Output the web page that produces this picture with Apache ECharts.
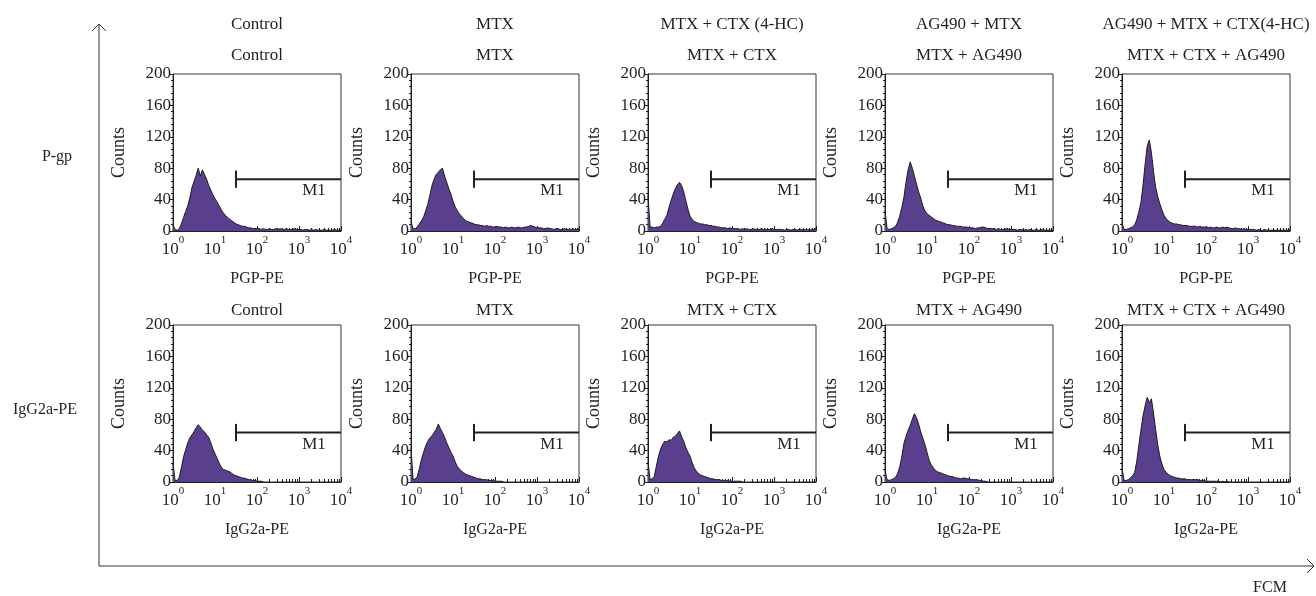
<!DOCTYPE html>
<html>
<head>
<meta charset="utf-8">
<script src="https://cdn.jsdelivr.net/npm/echarts@6/dist/echarts.min.js"></script>
<style>
    html, body { margin: 0; padding: 0; background: #fff; }
    #fcm_chart { width: 1316px; height: 596px; }
</style>
</head>
<body>
<div id="fcm_chart"></div>
<script>
// fluorescence channel bins (log scale, 20 per decade)
var channelBins = [1, 1.12, 1.26, 1.41, 1.58, 1.78, 2, 2.24, 2.51, 2.82,
    3.16, 3.55, 3.98, 4.47, 5.01, 5.62, 6.31, 7.08, 7.94, 8.91,
    10, 11.2, 12.6, 14.1, 15.8, 17.8, 20, 22.4, 25.1, 28.2,
    31.6, 35.5, 39.8, 44.7, 50.1, 56.2, 63.1, 70.8, 79.4, 89.1,
    100, 112, 126, 141, 158, 178, 200, 224, 251, 282,
    316, 355, 398, 447, 501, 562, 631, 708, 794, 891,
    1000, 1120, 1260, 1410, 1580, 1780, 2000, 2240, 2510, 2820,
    3160, 3550, 3980, 4470, 5010, 5620, 6310, 7080, 7940, 8910,
    10000];

var groupNames = ['Control', 'MTX', 'MTX + CTX (4-HC)', 'AG490 + MTX', 'AG490 + MTX + CTX(4-HC)'];
var panelTitles = ['Control', 'MTX', 'MTX + CTX', 'MTX + AG490', 'MTX + CTX + AG490'];
var rowLabels = ['P-gp', 'IgG2a-PE'];
var channelNames = ['PGP-PE', 'IgG2a-PE'];

// P-gp row counts
var pgpControl = [8, 2, 1, 3, 9, 17, 25, 32, 42, 55,
    63, 71, 80, 70, 78, 72, 66, 58, 52, 46,
    41, 37, 32, 27, 23, 20, 17, 15, 13, 11,
    9, 8, 7, 6, 6, 5, 4, 4, 3, 3,
    3, 3, 2, 3, 2, 2, 3, 2, 2, 3,
    2, 3, 2, 2, 3, 2, 2, 2, 3, 2,
    2, 2, 1, 2, 2, 1, 2, 1, 2, 1,
    1, 1, 2, 1, 1, 1, 1, 2, 1, 1,
    1];
var pgpMtx = [12, 3, 3, 5, 9, 13, 18, 26, 34, 46,
    58, 66, 72, 75, 78, 80, 70, 62, 54, 47,
    38, 31, 26, 22, 19, 16, 13, 12, 11, 10,
    9, 8, 8, 7, 7, 6, 7, 6, 6, 5,
    5, 6, 5, 5, 4, 5, 4, 4, 5, 4,
    4, 5, 4, 4, 5, 5, 6, 7, 6, 5,
    4, 4, 4, 3, 3, 4, 3, 3, 2, 3,
    3, 2, 2, 3, 2, 2, 2, 3, 2, 2,
    3];
var pgpMtxCtx = [45, 5, 5, 4, 5, 5, 6, 10, 15, 20,
    30, 39, 47, 54, 59, 62, 58, 50, 39, 28,
    19, 15, 12, 11, 10, 9, 9, 8, 8, 7,
    7, 6, 6, 5, 5, 4, 4, 4, 3, 4,
    3, 3, 3, 3, 2, 3, 2, 3, 2, 2,
    3, 2, 2, 2, 3, 2, 2, 2, 2, 3,
    2, 2, 2, 2, 2, 1, 2, 2, 1, 2,
    2, 1, 2, 2, 1, 2, 2, 1, 2, 2,
    3];
var pgpAgMtx = [26, 3, 2, 3, 4, 6, 11, 19, 30, 43,
    62, 78, 88, 80, 70, 60, 50, 42, 32, 26,
    22, 20, 18, 16, 14, 13, 12, 11, 10, 9,
    8, 8, 7, 7, 6, 6, 6, 5, 5, 5,
    4, 4, 4, 3, 4, 4, 5, 5, 4, 3,
    3, 3, 3, 2, 3, 2, 2, 2, 3, 2,
    2, 2, 2, 1, 2, 2, 1, 2, 1, 2,
    1, 1, 2, 1, 1, 2, 1, 1, 1, 1,
    1];
var pgpAgMtxCtx = [10, 2, 2, 3, 4, 5, 8, 14, 24, 36,
    58, 85, 108, 116, 100, 76, 56, 44, 35, 27,
    20, 16, 13, 11, 10, 9, 9, 8, 8, 7,
    7, 7, 6, 6, 6, 6, 5, 6, 5, 5,
    5, 4, 5, 4, 4, 5, 4, 4, 5, 4,
    5, 4, 3, 3, 4, 3, 3, 2, 3, 2,
    2, 2, 2, 2, 1, 2, 1, 1, 2, 1,
    1, 1, 1, 1, 1, 1, 1, 1, 1, 1,
    1];

// IgG2a isotype row counts
var igControl = [24, 2, 2, 6, 18, 32, 41, 50, 56, 60,
    64, 69, 73, 70, 66, 64, 60, 57, 50, 42,
    36, 30, 24, 19, 16, 15, 14, 13, 11, 9,
    8, 7, 6, 5, 5, 4, 3, 3, 2, 2,
    1, 1, 1, 0];
var igMtx = [44, 3, 4, 7, 17, 29, 38, 46, 52, 56,
    59, 63, 67, 74, 68, 63, 57, 50, 44, 38,
    33, 26, 20, 17, 14, 12, 10, 9, 8, 7,
    6, 5, 4, 4, 3, 3, 3, 2, 2, 2,
    1, 1, 1, 1, 0];
var igMtxCtx = [26, 3, 4, 7, 20, 33, 42, 48, 52, 51,
    54, 53, 57, 58, 62, 65, 58, 52, 44, 38,
    33, 25, 18, 14, 11, 9, 8, 7, 6, 5,
    4, 4, 3, 3, 3, 2, 2, 2, 2, 1,
    1, 1, 1, 1, 1, 0];
var igMtxAg = [15, 3, 2, 3, 4, 6, 11, 19, 32, 49,
    58, 66, 72, 80, 87, 82, 74, 64, 56, 48,
    38, 28, 22, 18, 15, 13, 12, 11, 10, 9,
    8, 7, 7, 6, 5, 5, 4, 5, 5, 4,
    4, 3, 3, 3, 3, 2, 2, 1, 1, 0];
var igMtxCtxAg = [18, 2, 2, 3, 5, 8, 12, 26, 46, 66,
    84, 97, 108, 101, 106, 88, 67, 48, 33, 23,
    16, 12, 10, 8, 7, 6, 5, 5, 4, 4,
    4, 3, 3, 3, 3, 3, 3, 2, 2, 2,
    1, 1, 1, 1, 1, 1, 1, 0, 1, 0,
    1, 0];

var panelCounts = [
    [pgpControl, pgpMtx, pgpMtxCtx, pgpAgMtx, pgpAgMtxCtx],
    [igControl, igMtx, igMtxCtx, igMtxAg, igMtxCtxAg]
];

// M1 gate
var gateStart = 31.6;
var gateEnd = 10000;
var gateLevel = [66, 63];
var gateTickHalf = 11;

var fontFamily = '"Liberation Serif", "DejaVu Serif", serif';
var ink = '#231f20';
var fillColor = '#5b3f8f';

var colLeft = [173, 411, 648, 885, 1122];
var rowTop = [74, 325];
var subTitleY = [56, 311];
var plotW = 168, plotH = 157;

var grids = [], xAxes = [], yAxes = [], series = [], graphics = [];

for (var r = 0; r < 2; r++) {
    for (var c = 0; c < 5; c++) {
        var idx = r * 5 + c;
        grids.push({
            left: colLeft[c], top: rowTop[r], width: plotW, height: plotH,
            show: true, borderColor: '#333', borderWidth: 1, backgroundColor: 'transparent'
        });
        xAxes.push({
            gridIndex: idx,
            type: 'log',
            logBase: 10,
            min: 1,
            max: 10000,
            name: channelNames[r],
            nameLocation: 'middle',
            nameGap: 40,
            nameTextStyle: { fontFamily: fontFamily, fontSize: 16, color: ink },
            axisLine: { show: true, lineStyle: { color: ink, width: 1 } },
            axisTick: { show: true, inside: true, length: 5, lineStyle: { color: ink } },
            minorTick: { show: true, splitNumber: 9, length: 3, lineStyle: { color: ink } },
            splitLine: { show: false },
            axisLabel: {
                margin: 4,
                formatter: function (v) {
                    return '{b|10}{s|' + Math.round(Math.log(v) / Math.LN10) + '}';
                },
                rich: {
                    b: { fontFamily: fontFamily, fontSize: 17, color: ink, verticalAlign: 'bottom', lineHeight: 23 },
                    s: { fontFamily: fontFamily, fontSize: 11, color: ink, verticalAlign: 'top', lineHeight: 11 }
                }
            }
        });
        yAxes.push({
            gridIndex: idx,
            type: 'value',
            min: 0,
            max: 200,
            interval: 40,
            name: 'Counts',
            nameLocation: 'middle',
            nameRotate: 90,
            nameGap: 45,
            nameTextStyle: { fontFamily: fontFamily, fontSize: 18, color: ink },
            axisLine: { show: true, lineStyle: { color: ink, width: 1 } },
            axisTick: { show: true, inside: false, length: 4, lineStyle: { color: ink } },
            minorTick: { show: true, splitNumber: 5, length: 2, lineStyle: { color: ink } },
            splitLine: { show: false },
            axisLabel: { margin: 2, fontFamily: fontFamily, fontSize: 17, color: ink }
        });

        var counts = panelCounts[r][c];
        var pts = [];
        for (var k = 0; k < counts.length; k++) {
            pts.push([channelBins[k], counts[k]]);
        }
        series.push({
            type: 'line',
            xAxisIndex: idx,
            yAxisIndex: idx,
            data: pts,
            symbol: 'none',
            lineStyle: { color: '#1c1c1c', width: 1 },
            areaStyle: { color: fillColor, opacity: 1 },
            z: 2
        });
        // M1 gate bar
        series.push({
            type: 'line',
            xAxisIndex: idx,
            yAxisIndex: idx,
            data: [[gateStart, gateLevel[r]], [gateEnd, gateLevel[r]]],
            symbol: 'none',
            clip: false,
            lineStyle: { color: ink, width: 2 },
            z: 3
        });
        series.push({
            type: 'line',
            xAxisIndex: idx,
            yAxisIndex: idx,
            data: [[gateStart, gateLevel[r] - gateTickHalf], [gateStart, gateLevel[r] + gateTickHalf]],
            symbol: 'none',
            lineStyle: { color: ink, width: 2 },
            z: 3
        });
        series.push({
            type: 'scatter',
            xAxisIndex: idx,
            yAxisIndex: idx,
            data: [[gateEnd, gateLevel[r]]],
            symbolSize: 0,
            clip: false,
            itemStyle: { color: 'transparent', opacity: 1 },
            label: {
                show: true,
                formatter: 'M1',
                position: 'bottom',
                distance: 3,
                offset: [-27, 0],
                fontFamily: fontFamily,
                fontSize: 17,
                color: ink,
                opacity: 1
            },
            z: 4
        });

        graphics.push({
            type: 'text',
            x: colLeft[c] + plotW / 2,
            y: subTitleY[r],
            style: { text: panelTitles[c], fill: ink, fontFamily: fontFamily, fontSize: 17, align: 'center', verticalAlign: 'middle' }
        });
    }
}

for (var c2 = 0; c2 < 5; c2++) {
    graphics.push({
        type: 'text',
        x: colLeft[c2] + plotW / 2,
        y: 25,
        style: { text: groupNames[c2], fill: ink, fontFamily: fontFamily, fontSize: 17, align: 'center', verticalAlign: 'middle' }
    });
}
graphics.push({
    type: 'text', x: 57, y: 157,
    style: { text: rowLabels[0], fill: ink, fontFamily: fontFamily, fontSize: 16, align: 'center', verticalAlign: 'middle' }
});
graphics.push({
    type: 'text', x: 45, y: 410,
    style: { text: rowLabels[1], fill: ink, fontFamily: fontFamily, fontSize: 16, align: 'center', verticalAlign: 'middle' }
});
graphics.push({
    type: 'text', x: 1270, y: 588,
    style: { text: 'FCM', fill: ink, fontFamily: fontFamily, fontSize: 16, align: 'center', verticalAlign: 'middle' }
});
// outer arrows
graphics.push({
    type: 'polyline',
    shape: { points: [[99, 566], [99, 24]] },
    style: { stroke: '#333', lineWidth: 1, fill: null }
});
graphics.push({
    type: 'polyline',
    shape: { points: [[92, 31], [99, 24], [106, 31]] },
    style: { stroke: '#333', lineWidth: 1, fill: null }
});
graphics.push({
    type: 'polyline',
    shape: { points: [[99, 566], [1314, 566]] },
    style: { stroke: '#333', lineWidth: 1, fill: null }
});
graphics.push({
    type: 'polyline',
    shape: { points: [[1307, 559], [1314, 566], [1307, 573]] },
    style: { stroke: '#333', lineWidth: 1, fill: null }
});

var option = {
    animation: false,
    backgroundColor: '#fff',
    grid: grids,
    xAxis: xAxes,
    yAxis: yAxes,
    series: series,
    graphic: graphics
};

var myChart = echarts.init(document.getElementById('fcm_chart'), null, { renderer: 'canvas' });
myChart.setOption(option);
</script>
</body>
</html>
